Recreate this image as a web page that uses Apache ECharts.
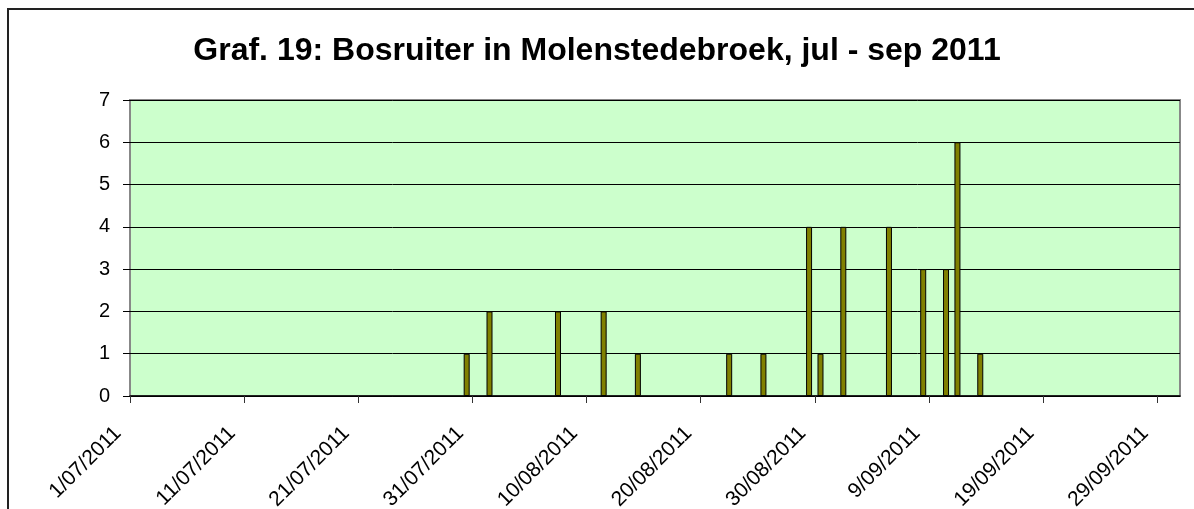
<!DOCTYPE html>
<html>
<head>
<meta charset="utf-8">
<script src="https://cdn.jsdelivr.net/npm/echarts@6/dist/echarts.min.js"></script>
<style>
  html, body { margin: 0; padding: 0; background: #fff; }
  #chart { width: 1194px; height: 509px; }
</style>
</head>
<body>
<div id="chart"></div>
<script>
// observation dates and counts
const dates = ['30/07/2011', '1/08/2011', '7/08/2011', '11/08/2011', '14/08/2011',
    '22/08/2011', '25/08/2011', '29/08/2011', '30/08/2011', '1/09/2011',
    '5/09/2011', '8/09/2011', '10/09/2011', '11/09/2011', '13/09/2011'];
const counts = [1, 2, 2, 2, 1, 1, 1, 4, 1, 4, 4, 3, 3, 6, 1];

const tickLabels = ['1/07/2011', '11/07/2011', '21/07/2011', '31/07/2011', '10/08/2011',
    '20/08/2011', '30/08/2011', '9/09/2011', '19/09/2011', '29/09/2011'];

const startDay = Date.UTC(2011, 6, 1);
const dayMs = 24 * 3600 * 1000;

// day offset from 1 July, bar sits in the middle of its day slot
function dayPos(s) {
    const p = s.split('/');
    const t = Date.UTC(+p[2], +p[1] - 1, +p[0]);
    return (t - startDay) / dayMs + 0.5;
}

const barData = dates.map((d, i) => [dayPos(d), counts[i]]);

const chart = echarts.init(document.getElementById('chart'));
chart.setOption({
    animation: false,
    title: {
        text: 'Graf. 19: Bosruiter in Molenstedebroek, jul - sep 2011',
        left: 'center',
        top: 30,
        textStyle: {
            fontFamily: 'Liberation Sans, Arial, sans-serif',
            fontSize: 32,
            fontWeight: 'bold',
            color: '#000'
        }
    },
    graphic: [{
        type: 'rect',
        shape: { x: 8, y: 9, width: 1200, height: 600 },
        style: { fill: 'none', stroke: '#222', lineWidth: 2 },
        silent: true
    }],
    grid: {
        left: 130,
        right: 14,
        top: 100,
        bottom: 113,
        outerBoundsMode: 'none',
        containLabel: false,
        show: true,
        backgroundColor: '#ccffcc',
        borderColor: '#888',
        borderWidth: 2
    },
    xAxis: {
        type: 'value',
        min: 0,
        max: 92,
        interval: 10,
        splitLine: { show: false },
        axisLine: { show: true, onZero: false, lineStyle: { color: '#000', width: 1.5 } },
        axisTick: { show: true, inside: false, length: 7, lineStyle: { color: '#333' } },
        axisLabel: {
            rotate: 45,
            margin: 22,
            padding: [0, 17, 0, 0],
            showMaxLabel: false,
            fontFamily: 'Liberation Sans, Arial, sans-serif',
            fontSize: 21,
            color: '#000',
            formatter: function (v) {
                const i = Math.round(v / 10);
                return (v % 10 === 0 && tickLabels[i]) ? tickLabels[i] : '';
            }
        }
    },
    yAxis: {
        type: 'value',
        min: 0,
        max: 7,
        interval: 1,
        axisLine: { show: false },
        axisTick: { show: true, inside: false, length: 7, lineStyle: { color: '#000' } },
        splitLine: { show: true, lineStyle: { color: '#000', width: 1 } },
        axisLabel: {
            margin: 20,
            fontFamily: 'Liberation Sans, Arial, sans-serif',
            fontSize: 20,
            color: '#000'
        }
    },
    series: [{
        type: 'bar',
        data: barData,
        barWidth: 6,
        itemStyle: { color: '#808000', borderColor: '#000', borderWidth: 1 }
    }]
});
</script>
</body>
</html>
